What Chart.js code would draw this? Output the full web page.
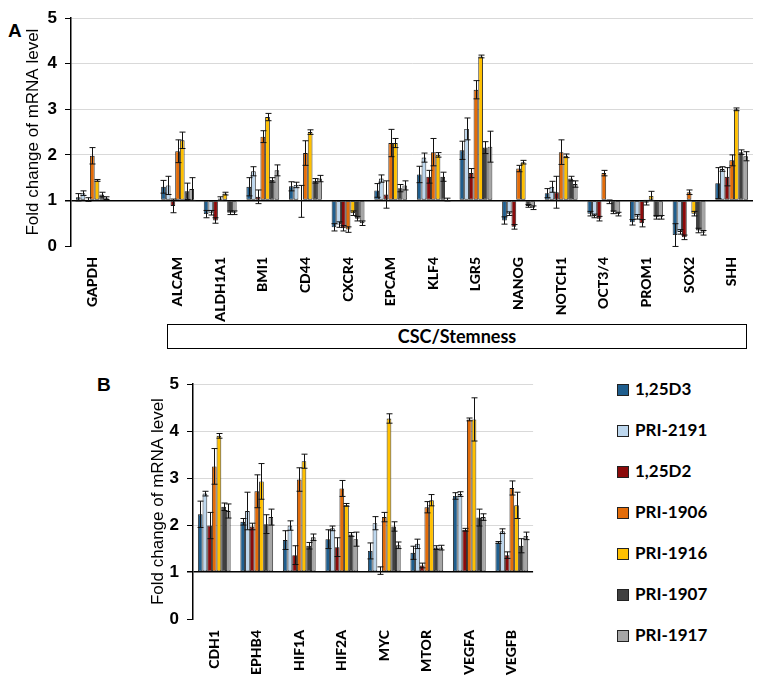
<!DOCTYPE html>
<html>
<head>
<meta charset="utf-8">
<script src="https://cdn.jsdelivr.net/npm/chart.js@4/dist/chart.umd.min.js"></script>
<style>
  body { margin: 0; background: #fff; width: 761px; height: 683px; position: relative; overflow: hidden; font-family: Lato, "Liberation Sans", sans-serif; }
  .box { position: absolute; }
  .panel { position: absolute; font: bold 19px "Liberation Sans", Arial, sans-serif; }
  #csc { position: absolute; left: 167px; top: 324px; width: 578px; height: 23px; border: 1.5px solid #000;
         font: bold 18px Lato, sans-serif; text-align: center; line-height: 23px; }
  #legend { position: absolute; left: 617px; top: 379px; }
  .item { height: 41px; display: flex; align-items: flex-start; font: bold 17px Lato, sans-serif; line-height: 20px; }
  .sw { width: 10px; height: 10px; border: 1px solid #222; margin: 5px 6px 0 0; }
</style>
</head>
<body>
<div class="panel" style="left:8px;top:20px">A</div>
<div class="panel" style="left:97px;top:374px">B</div>
<div class="box" style="left:0;top:0;width:761px;height:322px"><canvas id="chartA"></canvas></div>
<div id="csc">CSC/Stemness</div>
<div class="box" style="left:120px;top:366px;width:420px;height:317px"><canvas id="chartB"></canvas></div>
<div id="legend"></div>
<script>
// series
const seriesNames = ['1,25D3', 'PRI-2191', '1,25D2', 'PRI-1906', 'PRI-1916', 'PRI-1907', 'PRI-1917']
const seriesColors = ['#1F5E8E', '#BDD7EE', '#8B0A0A', '#E36C09', '#FFC000', '#404040', '#A6A6A6']
const yTicks = [0, 1, 2, 3, 4, 5]

// panel A
const catsA = ['GAPDH', '', 'ALCAM', 'ALDH1A1', 'BMI1', 'CD44', 'CXCR4', 'EPCAM', 'KLF4', 'LGR5', 'NANOG', 'NOTCH1', 'OCT3/4', 'PROM1', 'SOX2', 'SHH']
const aD3   = [1.07, null, 1.30, 0.70, 1.30, 1.31, 0.41, 1.22, 1.57, 2.10, 0.56, 1.16, 0.71, 0.52, 0.24, 1.38]
const a2191 = [1.16, null, 1.33, 0.73, 1.64, 1.34, 0.47, 1.48, 1.94, 2.57, 0.71, 1.30, 0.66, 0.64, 0.31, 1.69]
const aD2   = [1.02, null, 0.88, 0.56, 1.08, 0.98, 0.39, 1.13, 1.52, 1.60, 0.42, 1.18, 0.60, 0.50, 0.19, 1.52]
const a1906 = [1.98, null, 2.08, 1.04, 2.40, 2.04, 0.36, 2.26, 2.06, 3.43, 1.70, 2.06, 1.60, 0.95, 1.18, 1.88]
const a1916 = [1.44, null, 2.32, 1.15, 2.83, 2.50, 0.72, 2.26, 2.00, 4.16, 1.84, 1.98, 0.97, 1.10, 0.71, 3.00]
const a1907 = [1.13, null, 1.20, 0.73, 1.45, 1.43, 0.60, 1.27, 1.52, 2.16, 0.88, 1.48, 0.74, 0.63, 0.34, 2.06]
const a1917 = [1.05, null, 1.25, 0.73, 1.66, 1.48, 0.50, 1.33, 1.02, 2.18, 0.84, 1.36, 0.70, 0.63, 0.29, 1.97]
const errAD3   = [0.08, null, 0.14, 0.08, 0.20, 0.10, 0.08, 0.15, 0.18, 0.20, 0.08, 0.10, 0.05, 0.06, 0.25, 0.34]
const errA2191 = [0.05, null, 0.20, 0.05, 0.10, 0.06, 0.06, 0.08, 0.10, 0.24, 0.04, 0.12, 0.04, 0.05, 0.05, 0.05]
const errAD2   = [0.04, null, 0.15, 0.06, 0.15, 0.35, 0.06, 0.30, 0.14, 0.10, 0.05, 0.35, 0.05, 0.08, 0.05, 0.20]
const errA1906 = [0.18, null, 0.25, 0.04, 0.13, 0.27, 0.06, 0.30, 0.30, 0.20, 0.07, 0.27, 0.06, 0.05, 0.05, 0.12]
const errA1916 = [0.02, null, 0.18, 0.03, 0.08, 0.05, 0.05, 0.10, 0.05, 0.03, 0.04, 0.04, 0.04, 0.10, 0.05, 0.03]
const errA1907 = [0.05, null, 0.18, 0.04, 0.05, 0.05, 0.05, 0.08, 0.10, 0.13, 0.03, 0.05, 0.03, 0.04, 0.05, 0.05]
const errA1917 = [0.03, null, 0.25, 0.04, 0.12, 0.07, 0.05, 0.10, 0.03, 0.34, 0.04, 0.07, 0.04, 0.04, 0.05, 0.10]

// panel B
const catsB = ['CDH1', 'EPHB4', 'HIF1A', 'HIF2A', 'MYC', 'MTOR', 'VEGFA', 'VEGFB']
const bD3   = [2.23, 2.07, 1.68, 1.70, 1.45, 1.41, 2.62, 1.63]
const b2191 = [2.67, 2.30, 1.99, 1.93, 2.04, 1.60, 2.66, 1.87]
const bD2   = [1.99, 1.97, 1.36, 1.53, 1.03, 1.14, 1.90, 1.36]
const b1906 = [3.25, 2.72, 2.97, 2.78, 2.17, 2.38, 4.25, 2.79]
const b1916 = [3.90, 2.93, 3.36, 2.43, 4.27, 2.53, 4.25, 2.42]
const b1907 = [2.39, 2.02, 1.56, 1.80, 1.97, 1.52, 2.16, 1.56]
const b1917 = [2.30, 2.17, 1.74, 1.70, 1.57, 1.52, 2.17, 1.77]
const errBD3   = [0.28, 0.07, 0.20, 0.20, 0.17, 0.14, 0.07, 0.02]
const errB2191 = [0.05, 0.40, 0.10, 0.05, 0.14, 0.10, 0.05, 0.05]
const errBD2   = [0.28, 0.07, 0.20, 0.20, 0.08, 0.05, 0.03, 0.07]
const errB1906 = [0.38, 0.35, 0.25, 0.17, 0.10, 0.12, 0.03, 0.15]
const errB1916 = [0.05, 0.38, 0.15, 0.03, 0.10, 0.12, 0.46, 0.28]
const errB1907 = [0.08, 0.20, 0.07, 0.04, 0.10, 0.04, 0.18, 0.15]
const errB1917 = [0.15, 0.17, 0.07, 0.15, 0.07, 0.05, 0.07, 0.08]

const valuesA = [aD3, a2191, aD2, a1906, a1916, a1907, a1917]
const errorsA = [errAD3, errA2191, errAD2, errA1906, errA1916, errA1907, errA1917]
const valuesB = [bD3, b2191, bD2, b1906, b1916, b1907, b1917]
const errorsB = [errBD3, errB2191, errBD2, errB1906, errB1916, errB1907, errB1917]

// draws the error bars (both directions, with caps)
const errorBars = {
    id: 'errorBars',
    afterDatasetsDraw(chart) {
        const ctx = chart.ctx
        const yScale = chart.scales.y
        ctx.save()
        ctx.strokeStyle = '#111'
        ctx.lineWidth = 1
        chart.data.datasets.forEach((ds, i) => {
            chart.getDatasetMeta(i).data.forEach((bar, j) => {
                const v = ds.data[j], e = ds.errors[j]
                if (v == null || !e) return
                const x = Math.round(bar.x) + 0.5
                const top = yScale.getPixelForValue(v + e)
                const bot = yScale.getPixelForValue(v - e)
                ctx.beginPath()
                ctx.moveTo(x, top); ctx.lineTo(x, bot)
                ctx.moveTo(x - 3, top); ctx.lineTo(x + 3, top)
                ctx.moveTo(x - 3, bot); ctx.lineTo(x + 3, bot)
                ctx.stroke()
            })
        })
        ctx.restore()
    }
}

const makeDatasets = (values, errors) => seriesNames.map((name, i) => ({
    label: name,
    data: values[i],
    errors: errors[i],
    base: 1,
    backgroundColor: seriesColors[i],
    borderColor: '#1a1a1a',
    borderWidth: 0.9,
    borderSkipped: false,
    categoryPercentage: 0.77,
    barPercentage: 1
}))

const makeChart = (id, cats, values, errors, axisWidth, axisHeight, titlePad, padding) => new Chart(document.getElementById(id), {
    type: 'bar',
    data: { labels: cats, datasets: makeDatasets(values, errors) },
    options: {
        responsive: true,
        maintainAspectRatio: false,
        animation: false,
        layout: { padding: padding },
        plugins: { legend: { display: false }, tooltip: { enabled: false } },
        scales: {
            x: {
                grid: { display: false, drawTicks: false },
                border: { display: false },
                ticks: {
                    color: '#000',
                    font: { family: 'Lato', weight: '900', size: 14 },
                    maxRotation: 90, minRotation: 90, autoSkip: false, padding: 11
                },
                afterFit: s => { s.height = axisHeight }
            },
            y: {
                min: 0, max: 5,
                afterBuildTicks: s => { s.ticks = yTicks.map(v => ({ value: v })) },
                grid: {
                    color: c => c.tick.value === 1 ? '#000' : c.tick.value === 0 ? 'rgba(0,0,0,0)' : '#d9d9d9',
                    lineWidth: c => c.tick.value === 1 ? 1.5 : 1,
                    tickColor: '#000',
                    tickLength: 6
                },
                border: { display: true, color: '#000', width: 1.5 },
                ticks: {
                    color: '#000',
                    font: { family: 'Liberation Sans', weight: 'bold', size: 17 },
                    padding: 8
                },
                title: {
                    display: true,
                    text: 'Fold change of mRNA level',
                    color: '#000',
                    font: { family: 'Liberation Sans', size: 17 },
                    padding: { top: titlePad, bottom: 0 }
                },
                afterFit: s => { s.width = axisWidth }
            }
        }
    },
    plugins: [errorBars]
})

makeChart('chartA', catsA, valuesA, errorsA, 71, 76, 23, { top: 12, right: 8, left: 0, bottom: 0 })
makeChart('chartB', catsB, valuesB, errorsB, 73, 64, 28, { top: 15, right: 6, left: 0, bottom: 0 })

// legend for panel B
let legendHtml = ``
seriesNames.forEach((name, i) => {
    legendHtml += `<div class="item"><div class="sw" style="background:${seriesColors[i]}"></div>${name}</div>`
})
document.getElementById('legend').innerHTML = legendHtml
</script>
</body>
</html>
